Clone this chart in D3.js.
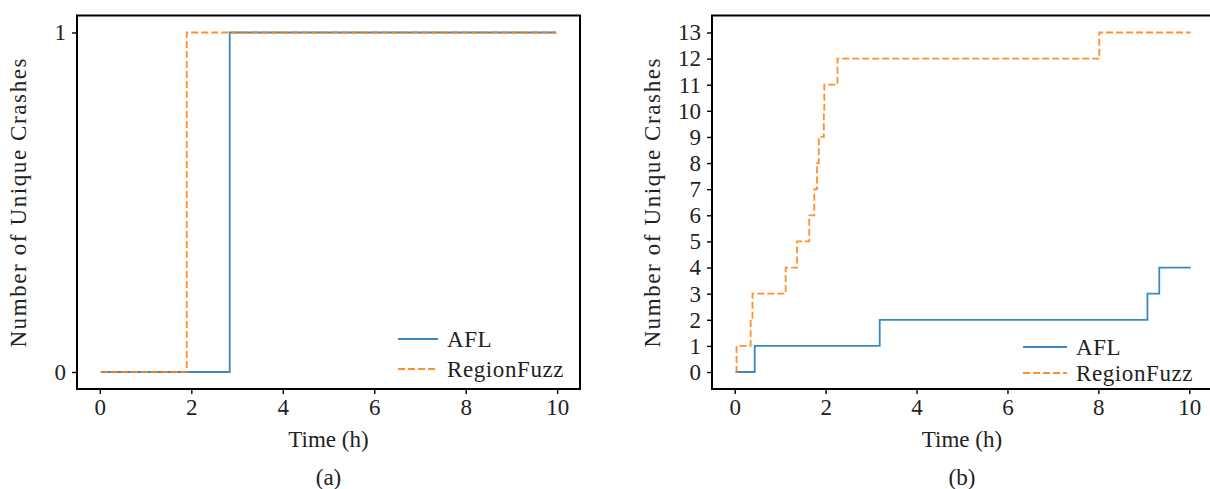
<!DOCTYPE html>
<html>
<head>
<meta charset="utf-8">
<script src="https://cdn.jsdelivr.net/npm/d3@7"></script>
<style>
    body { margin: 0; background: #fff; }
    svg { display: block; }
    text { font-family: "Liberation Serif", "Times New Roman", serif; fill: #222; }
    .tick line { stroke: #000; stroke-width: 1.4px; }
    .tick text { font-size: 23px; }
</style>
</head>
<body>
<svg id="chart" width="1210" height="489"></svg>
<script>
// values (time in hours, cumulative unique crashes)
var hourTicks = [0, 2, 4, 6, 8, 10];
var crashTicksA = [0, 1];
var crashTicksB = [0, 1, 2, 3, 4, 5, 6, 7, 8, 9, 10, 11, 12, 13];

var aflTimeA = [0.02, 2.84, 9.98];
var aflCrashA = [0, 1, 1];
var regionTimeA = [0.02, 1.90, 9.98];
var regionCrashA = [0, 1, 1];

var aflTimeB = [0.02, 0.44, 3.19, 9.08, 9.34, 10.03];
var aflCrashB = [0, 1, 2, 3, 4, 4];
var regionTimeB = [0.02, 0.04, 0.35, 0.39, 1.12, 1.37, 1.64, 1.75, 1.81, 1.85, 1.96, 1.97, 2.26, 8.02, 10.03];
var regionCrashB = [0, 1, 2, 3, 4, 5, 6, 7, 8, 9, 10, 11, 12, 13, 13];

var seriesNames = ["AFL", "RegionFuzz"];
var seriesColors = ["#1f77b4", "#ff7f0e"];

var svg = d3.select("#chart");

function zip(times, counts) {
    return times.map(function(t, i) {
        return { t: t, c: counts[i] };
    });
}

/**
 * Draws one panel: frame, step lines, axes, labels and legend
 */
function drawPanel(cfg) {
    var x = d3.scaleLinear().domain([-0.5, 10.5]).range([cfg.left, cfg.right]);
    var yMax = d3.max(cfg.yTicks);
    var pad = yMax * 0.05;
    var y = d3.scaleLinear().domain([-pad, yMax + pad]).range([cfg.bottom, cfg.top]);

    var g = svg.append("g");

    var line = d3.line()
        .curve(d3.curveStepAfter)
        .x(function(d) { return x(d.t); })
        .y(function(d) { return y(d.c); });

    cfg.series.forEach(function(s, i) {
        g.append("path")
            .datum(s)
            .attr("d", line)
            .attr("fill", "none")
            .attr("stroke", seriesColors[i])
            .attr("stroke-opacity", 0.88)
            .attr("stroke-width", 1.8)
            .attr("stroke-dasharray", i == 1 ? "7,3" : null);
    });

    // Axes without domain lines, the frame is drawn separately
    var xAxis = g.append("g")
        .attr("transform", "translate(0," + cfg.bottom + ")")
        .call(d3.axisBottom(x).tickValues(hourTicks).tickFormat(d3.format("d"))
            .tickSize(5).tickPadding(5));
    xAxis.select(".domain").remove();

    var yAxis = g.append("g")
        .attr("transform", "translate(" + cfg.left + ",0)")
        .call(d3.axisLeft(y).tickValues(cfg.yTicks).tickFormat(d3.format("d"))
            .tickSize(5).tickPadding(6));
    yAxis.select(".domain").remove();

    g.selectAll(".tick text").attr("fill", "#222");

    g.append("rect")
        .attr("x", cfg.left)
        .attr("y", cfg.top)
        .attr("width", cfg.right - cfg.left)
        .attr("height", cfg.bottom - cfg.top)
        .attr("fill", "none")
        .attr("stroke", "#000")
        .attr("stroke-width", 2);

    var mid = (cfg.left + cfg.right) / 2;
    g.append("text")
        .attr("x", mid)
        .attr("y", 447)
        .attr("text-anchor", "middle")
        .style("font-size", "23px")
        .text("Time (h)");

    g.append("text")
        .attr("x", mid)
        .attr("y", 485)
        .attr("text-anchor", "middle")
        .style("font-size", "23px")
        .text(cfg.caption);

    g.append("text")
        .attr("transform", "translate(" + cfg.yLabelX + "," + ((cfg.top + cfg.bottom) / 2) + ") rotate(-90)")
        .attr("text-anchor", "middle")
        .style("font-size", "23px")
        .style("letter-spacing", "1.6px")
        .text("Number of Unique Crashes");

    // Legend
    seriesNames.forEach(function(name, i) {
        var ly = cfg.legendY[i];
        g.append("line")
            .attr("x1", cfg.legendX)
            .attr("x2", cfg.legendX + cfg.legendLen)
            .attr("y1", ly)
            .attr("y2", ly)
            .attr("stroke", seriesColors[i])
            .attr("stroke-opacity", 0.88)
            .attr("stroke-width", 1.8)
            .attr("stroke-dasharray", i == 1 ? "7,3" : null);
        g.append("text")
            .attr("x", cfg.legendX + cfg.legendLen + 9)
            .attr("y", ly + 8)
            .style("font-size", "23px")
            .style("letter-spacing", "0.6px")
            .text(name);
    });
}

drawPanel({
    left: 77, right: 580, top: 15.5, bottom: 389,
    yTicks: crashTicksA,
    series: [zip(aflTimeA, aflCrashA), zip(regionTimeA, regionCrashA)],
    caption: "(a)",
    yLabelX: 26,
    legendX: 398, legendLen: 40, legendY: [339, 369]
});

drawPanel({
    left: 712, right: 1212, top: 15.5, bottom: 389,
    yTicks: crashTicksB,
    series: [zip(aflTimeB, aflCrashB), zip(regionTimeB, regionCrashB)],
    caption: "(b)",
    yLabelX: 660,
    legendX: 1023, legendLen: 44, legendY: [347, 373]
});
</script>
</body>
</html>
